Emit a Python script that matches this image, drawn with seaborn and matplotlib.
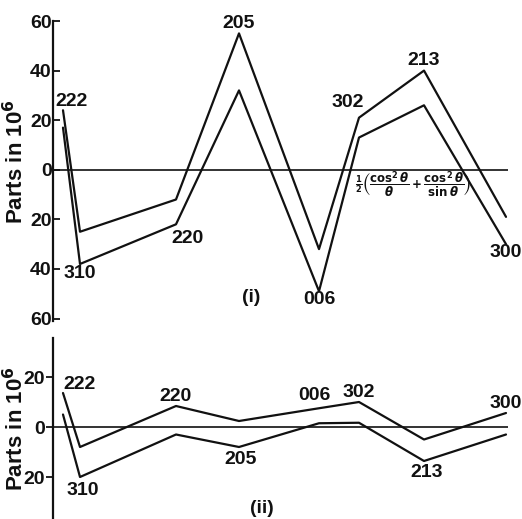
import matplotlib
matplotlib.use("Agg")

import matplotlib.pyplot as plt
import seaborn as sns
import pandas as pd

# reflections, in the order they sit along the x axis
reflections = ["222", "310", "220", "205", "006", "302", "213", "300"]
# horizontal position of each reflection (arbitrary angular units)
theta = [10, 27, 123, 186, 266, 306, 371, 453]

# panel (i), parts in 10^6
upper_i = [24, -25, -12, 55, -32, 21, 40, -19]
lower_i = [17, -38, -22, 32, -49, 13, 26, -30]

# panel (ii), parts in 10^6
upper_ii = [13.6, -8, 8.4, 2.4, 7.5, 10, -5, 5.6]
lower_ii = [5, -20, -3, -8, 1.5, 1.7, -13.6, -3]

# which line each label belongs to, and its offset (points) from that point
labels_i = {"222": ("upper", (6, 6)), "310": ("lower", (0, -7)),
            "220": ("lower", (8, -10)), "205": ("upper", (0, 7)),
            "006": ("lower", (0, -6)), "302": ("upper", (-8, 11)),
            "213": ("upper", (0, 7)), "300": ("lower", (0, -6))}
labels_ii = {"222": ("upper", (12, 6)), "310": ("lower", (2, -10)),
             "220": ("upper", (0, 7)), "205": ("lower", (1, -9)),
             "006": ("upper", (-3, 9)), "302": ("upper", (0, 7)),
             "213": ("lower", (2, -8)), "300": ("upper", (0, 7))}

sns.set_style("white")
plt.rcParams["font.family"] = ["Liberation Sans", "DejaVu Sans"]
plt.rcParams["font.weight"] = "bold"
plt.rcParams["axes.labelweight"] = "bold"
plt.rcParams["mathtext.fontset"] = "dejavusans"

INK = "#111111"

fig = plt.figure(figsize=(5.22, 5.19), dpi=100)
ax1 = fig.add_axes([53 / 522, 1 - 321 / 519, 462 / 522, 300 / 519])
ax2 = fig.add_axes([53 / 522, 0.0, 462 / 522, 181 / 519])


def draw_panel(ax, upper, lower, labels, ylim, yticks, ticklabels, tickdir,
               tag, tag_xy, label_y):
    df = pd.DataFrame({"theta": theta, "upper": upper, "lower": lower},
                      index=reflections)
    for col in ["upper", "lower"]:
        sns.lineplot(data=df, x="theta", y=col, ax=ax, color=INK, lw=1.6,
                     sort=False, legend=False)
    ax.hlines(0, 0, max(theta) + 2, color=INK, lw=1.2)

    for name, (which, off) in labels.items():
        ax.annotate(name, (df.loc[name, "theta"], df.loc[name, which]),
                    xytext=off, textcoords="offset points",
                    ha="center", va="center", fontsize=14, color=INK)

    ax.set_xlim(0, 462)
    ax.set_ylim(*ylim)
    ax.set_yticks(yticks)
    ax.set_yticklabels(ticklabels)
    ax.set_xticks([])
    ax.set_xlabel("")
    ax.set_ylabel("Parts in 10$^6$", fontsize=16, color=INK)
    ax.yaxis.set_label_coords(-0.054, label_y)
    for s in ["top", "right", "bottom"]:
        ax.spines[s].set_visible(False)
    ax.spines["left"].set_color(INK)
    ax.spines["left"].set_linewidth(1.6)
    ax.tick_params(axis="y", direction=tickdir, length=5, width=1.3,
                   labelsize=14, colors=INK, pad=1, left=True)
    ax.text(*tag_xy, tag, transform=ax.transAxes, ha="center", va="center",
            fontsize=14, color=INK)
    ax.set_facecolor("white")


draw_panel(ax1, upper_i, lower_i, labels_i, (-61, 59),
           [60, 40, 20, 0, -20, -40, -60],
           ["60", "40", "20", "0", "20", "40", "60"], "in", "(i)", (0.43, 0.08),
           0.53)
ax1.text(302, -6,
         r"$\frac{1}{2}\left(\dfrac{\cos^2\theta}{\theta}+\dfrac{\cos^2\theta}{\sin\theta}\right)$",
         ha="left", va="center", fontsize=8.5, color=INK)

draw_panel(ax2, upper_ii, lower_ii, labels_ii, (-36.8, 35.6),
           [20, 0, -20], ["20", "0", "20"], "out", "(ii)", (0.452, 0.06),
           0.50)

fig.savefig("out.png", dpi=100, facecolor="white")
